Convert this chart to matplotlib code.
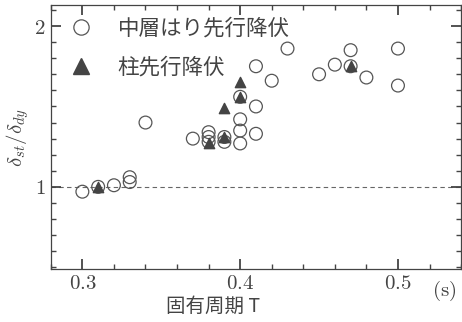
import matplotlib
matplotlib.use('Agg')
import matplotlib.pyplot as plt
from matplotlib.ticker import MultipleLocator, FixedLocator
from matplotlib.lines import Line2D

plt.rcParams['font.family'] = ['DejaVu Serif', 'Noto Sans CJK JP']
plt.rcParams['mathtext.fontset'] = 'cm'

# 中層はり先行降伏（白丸）
beam_T = [0.30, 0.31, 0.32, 0.33, 0.33, 0.34, 0.37, 0.38, 0.38, 0.38, 0.39, 0.39,
          0.40, 0.40, 0.40, 0.40, 0.41, 0.41, 0.41, 0.42, 0.43, 0.45, 0.46, 0.47,
          0.47, 0.48, 0.50, 0.50]
beam_ratio = [0.97, 1.00, 1.01, 1.03, 1.06, 1.40, 1.30, 1.34, 1.31, 1.28, 1.31, 1.28,
              1.56, 1.42, 1.35, 1.27, 1.75, 1.50, 1.33, 1.66, 1.86, 1.70, 1.76, 1.85,
              1.75, 1.68, 1.86, 1.63]

# 柱先行降伏（黒三角）
col_T = [0.31, 0.38, 0.39, 0.39, 0.40, 0.40, 0.47]
col_ratio = [1.00, 1.27, 1.31, 1.49, 1.56, 1.65, 1.75]

x_ticks = [0.3, 0.4, 0.5]
y_ticks = [1, 2]

fig = plt.figure(figsize=(4.62, 3.22), dpi=100)
ax = fig.add_axes([0.110, 0.165, 0.888, 0.819])

gray = '#555555'
txt = '#444444'
ax.axhline(1.0, color='#666666', lw=0.8, ls=(0, (4, 3)), zorder=1)
ax.scatter(beam_T, beam_ratio, s=85, facecolors='none', edgecolors=gray,
           linewidths=0.9, zorder=2)
ax.scatter(col_T, col_ratio, s=55, marker='^', color='#444444', zorder=3)

ax.set_xlim(0.28, 0.54)
ax.set_ylim(0.49, 2.13)
ax.xaxis.set_major_locator(FixedLocator(x_ticks))
ax.xaxis.set_minor_locator(MultipleLocator(0.02))
ax.yaxis.set_major_locator(FixedLocator(y_ticks))
ax.yaxis.set_minor_locator(MultipleLocator(0.1))
ax.set_xticklabels([r'$%s$' % v for v in x_ticks])
ax.set_yticklabels([r'$%s$' % v for v in y_ticks])

for s in ax.spines.values():
    s.set_color('#444444')
    s.set_linewidth(0.9)
ax.tick_params(which='both', direction='in', top=True, right=True,
               colors='#444444', labelcolor=txt, labelsize=15)
ax.tick_params(which='major', length=7, width=1.3, pad=4)
ax.tick_params(which='minor', length=3.5, width=1.0)

ax.set_ylabel(r'$\delta_{st}/\delta_{dy}$', fontsize=15, color=txt, labelpad=2)
fig.text(0.462, 0.048, '固有周期 T', ha='center', va='center',
         fontsize=14, color=txt, family=['Noto Sans CJK JP', 'DejaVu Serif'])
fig.text(0.962, 0.098, r'$\mathrm{(s)}$', ha='center', va='center', fontsize=15,
         color=txt)

handles = [
    Line2D([], [], marker='o', ls='none', markerfacecolor='none',
           markeredgecolor=gray, markersize=11, markeredgewidth=0.9),
    Line2D([], [], marker='^', ls='none', color='#444444', markersize=11),
]
ax.legend(handles, ['中層はり先行降伏', '柱先行降伏'], loc='upper left',
          frameon=False, fontsize=15.5, labelcolor=txt,
          borderaxespad=0.0, handletextpad=0.7, labelspacing=0.8,
          bbox_to_anchor=(0.0, 0.985))

fig.savefig('out.png', dpi=100)
